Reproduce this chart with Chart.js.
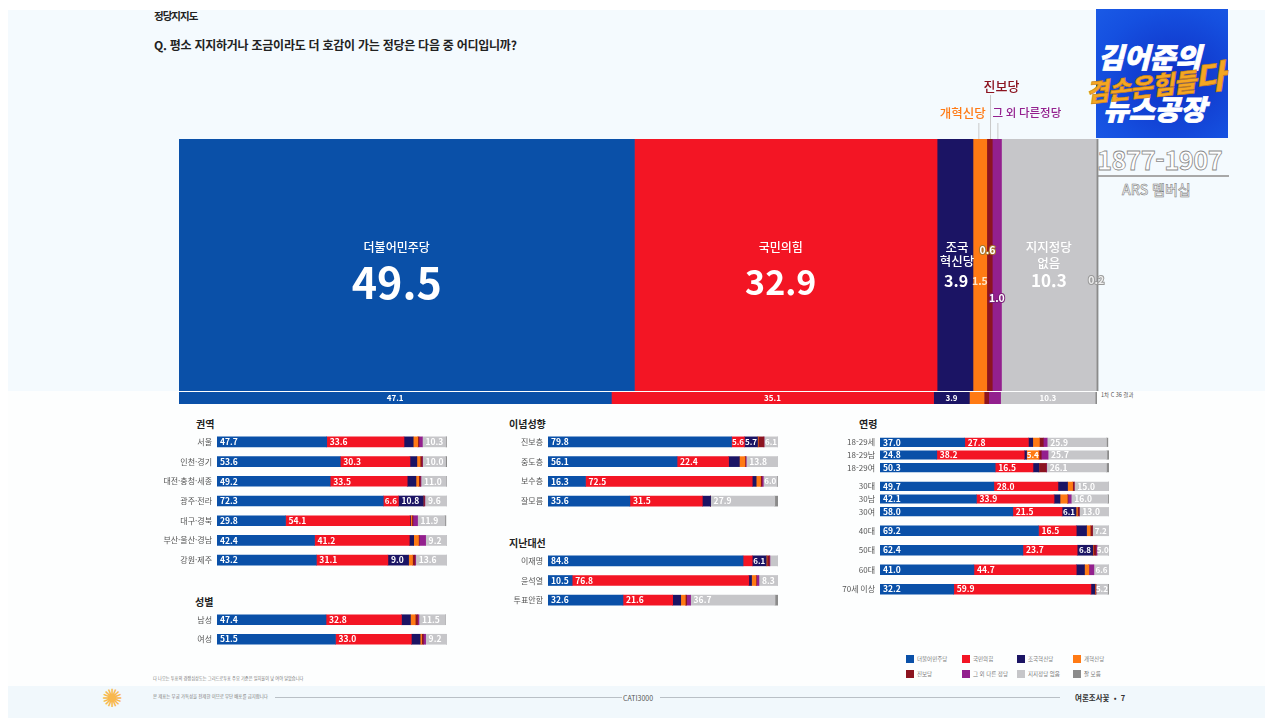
<!DOCTYPE html>
<html lang="ko">
<head>
<meta charset="utf-8">
<title>정당지지도</title>
<script src="https://cdn.jsdelivr.net/npm/chart.js@4"></script>
<style>
  html, body { margin: 0; padding: 0; }
  body { width: 1265px; height: 720px; overflow: hidden; position: relative; background: #ffffff;
         font-family: "Noto Sans CJK KR", "Noto Sans", sans-serif; color: #222; }
  canvas { position: absolute; }
  .abs { position: absolute; white-space: nowrap; }
  .panel-top { position: absolute; left: 8px; top: 10px; width: 1257px; height: 381px; background: #f4fafe; }
  .panel-bottom { position: absolute; left: 8px; top: 391px; width: 1257px; height: 295px; background: #fdfefe; }
  .panel-foot { position: absolute; left: 8px; top: 686px; width: 1257px; height: 32px; background: #f1f8fc; }
  .group-title { font-size: 10px; font-weight: 700; color: #222; }
  .logo { position: absolute; left: 1096px; top: 9px; width: 132px; height: 129px;
          background: radial-gradient(ellipse at 60% 55%, #0f2fc4 0%, #1550e0 70%, #1a5ae6 100%); }
  .logo-line { position: absolute; color: #fff; font-weight: 900; font-style: italic; white-space: nowrap; }
  .leg-box { position: absolute; width: 8px; height: 8px; }
  .leg-text { position: absolute; font-size: 5.5px; color: #777; white-space: nowrap; }
</style>
</head>
<body>
<div class="panel-top"></div>
<div class="panel-bottom"></div>
<div class="panel-foot"></div>

<div class="abs" style="left:154px;top:8px;font-size:10.5px;font-weight:700;letter-spacing:-1px;">정당지지도</div>
<div class="abs" style="left:154px;top:36px;font-size:12px;font-weight:700;letter-spacing:-.25px;">Q. 평소 지지하거나 조금이라도 더 호감이 가는 정당은 다음 중 어디입니까?</div>

<div class="logo"></div>
<div class="logo-line" style="left:1098px;top:36px;font-size:28px;-webkit-text-stroke:.8px #fff;">김어준의</div>
<div class="logo-line" style="left:1103px;top:88px;font-size:28px;-webkit-text-stroke:.8px #fff;">뉴스공장</div>
<div class="logo-line" style="left:1085px;top:57px;font-size:25px;color:#f5a623;transform:rotate(-6deg);letter-spacing:-1px;-webkit-text-stroke:.6px #c77f10;">겸손은힘들<span style="font-size:33px;">다</span></div>
<div class="abs" style="left:1097px;top:140px;font-size:25.5px;font-weight:700;color:#fff;-webkit-text-stroke:.8px #8a8a8a;letter-spacing:-.5px;">1877-1907</div>
<div class="abs" style="left:1096px;top:175px;width:133px;height:2px;background:#a8a8a8;"></div>
<div class="abs" style="left:1122px;top:179px;font-size:14px;font-weight:500;color:#eee;-webkit-text-stroke:.5px #777;">ARS 멤버십</div>

<div class="abs" style="left:1101px;top:391px;font-size:5.5px;color:#555;">1차 C 36 결과</div>

<div class="abs group-title" style="left:196px;top:416px;">권역</div>
<div class="abs group-title" style="left:195px;top:594px;">성별</div>
<div class="abs group-title" style="left:509px;top:416px;">이념성향</div>
<div class="abs group-title" style="left:509px;top:535px;">지난대선</div>
<div class="abs group-title" style="left:859px;top:416px;">연령</div>

<div class="abs" style="left:153px;top:675px;font-size:4.2px;color:#777;">다 나오는 투표의 경쟁심상도는 그리드로투표 주요 기준은 일치율이 낮 여야 달았습니다</div>
<div class="abs" style="left:153px;top:693px;font-size:4.4px;color:#777;">본 제표는 무궁 가독성을 전제한 이므로 무단 배포를 금지합니다</div>
<div class="abs" style="left:275px;top:697px;width:347px;height:1px;background:#b9c0c6;"></div>
<div class="abs" style="left:660px;top:697px;width:400px;height:1px;background:#b9c0c6;"></div>
<div class="abs" style="left:623px;top:693px;font-size:7px;color:#555;">CATI3000</div>
<div class="abs" style="left:1075px;top:692px;font-size:7.5px;font-weight:700;color:#333;">여론조사꽃 &nbsp;•&nbsp; 7</div>
<div class="abs" style="left:102px;top:684px;font-size:25px;line-height:30px;color:#f8b84e;font-family:'DejaVu Sans';">✺</div>

<script>
/* ======================================================
    DATA
====================================================== */
const partyNames = ['더불어민주당', '국민의힘', '조국혁신당', '개혁신당', '진보당', '그 외 다른 정당', '지지정당 없음', '잘 모름'];
const partyColors = ['#0a50a8', '#f31524', '#1b1464', '#ff7a14', '#8c1420', '#93208e', '#c6c6c9', '#8b8b8b'];

// overall result, same order as partyNames
const overall = [49.5, 32.9, 3.9, 1.5, 0.6, 1.0, 10.3, 0.2];
const previous = [47.1, 35.1, 3.9, 1.6, 0.5, 1.3, 10.3, 0.2];

const regionCats = ['서울', '인천·경기', '대전·충청·세종', '광주·전라', '대구·경북', '부산·울산·경남', '강원·제주'];
const regionRows = [
    [47.7, 33.6, 4.0, 2.0, 0.5, 1.5, 10.3, 0.4],
    [53.6, 30.3, 3.0, 1.4, 0.9, 0.2, 10.0, 0.6],
    [49.2, 33.5, 3.8, 1.2, 0.7, 0.3, 11.0, 0.3],
    [72.3, 6.6, 10.8, 0, 0.5, 0.2, 9.6, 0],
    [29.8, 54.1, 0.3, 0.5, 0.5, 2.0, 11.9, 0.4],
    [42.4, 41.2, 1.9, 2.1, 0.3, 2.8, 9.2, 0.1],
    [43.2, 31.1, 9.0, 1.7, 1.0, 0.4, 13.6, 0]
];

const genderCats = ['남성', '여성'];
const genderRows = [
    [47.4, 32.8, 3.9, 2.1, 1.0, 0.6, 11.5, 0.1],
    [51.5, 33.0, 3.8, 0.7, 0.7, 1.0, 9.2, 0]
];

const ideologyCats = ['진보층', '중도층', '보수층', '잘모름'];
const ideologyRows = [
    [79.8, 5.6, 5.7, 0.3, 2.5, 0, 6.1, 0],
    [56.1, 22.4, 4.7, 2.4, 0.3, 0.3, 13.8, 0],
    [16.3, 72.5, 1.7, 1.9, 0.6, 0.6, 6.0, 0.4],
    [35.6, 31.5, 3.6, 0, 0, 0, 27.9, 1.3]
];

const electionCats = ['이재명', '윤석열', '투표안함'];
const electionRows = [
    [84.8, 4.0, 6.1, 0.3, 1.0, 0.3, 3.5, 0],
    [10.5, 76.8, 1.2, 1.9, 0.2, 1.1, 8.3, 0],
    [32.6, 21.6, 3.5, 2.0, 0.6, 1.7, 36.7, 1.3]
];

const youngCats = ['18-29세', '18-29남', '18-29여'];
const youngRows = [
    [37.0, 27.8, 1.9, 2.9, 1.7, 1.7, 25.9, 0.6],
    [24.8, 38.2, 1.0, 5.4, 1.0, 3.0, 25.7, 0.9],
    [50.3, 16.5, 2.6, 0, 3.2, 0.2, 26.1, 1.1]
];

const thirtiesCats = ['30대', '30남', '30여'];
const thirtiesRows = [
    [49.7, 28.0, 4.2, 2.2, 0.7, 0, 15.0, 0.2],
    [42.1, 33.9, 2.6, 3.2, 0.3, 1.4, 16.0, 0.5],
    [58.0, 21.5, 6.1, 0.6, 0.8, 0, 13.0, 0]
];

const olderCats = ['40대', '50대', '60대', '70세 이상'];
const olderRows = [
    [69.2, 16.5, 4.5, 1.6, 1.0, 0, 7.2, 0],
    [62.4, 23.7, 6.8, 0.2, 1.2, 0.5, 5.0, 0.2],
    [41.0, 44.7, 3.6, 1.9, 0, 2.2, 6.6, 0],
    [32.2, 59.9, 1.7, 0.2, 0.3, 0, 5.2, 0.5]
];

/* ======================================================
    CHART HELPERS
====================================================== */
Chart.defaults.font.family = '"Noto Sans CJK KR", "Noto Sans", sans-serif';
Chart.defaults.animation = false;

function addCanvas(left, top, width, height) {
    const c = document.createElement('canvas');
    c.width = width;
    c.height = height;
    c.style.left = left + 'px';
    c.style.top = top + 'px';
    c.style.width = width + 'px';
    c.style.height = height + 'px';
    document.body.appendChild(c);
    return c;
}

// rows are per category, datasets need per party
function toDatasets(rows) {
    return partyNames.map((name, i) => ({
        label: name,
        data: rows.map(r => r[i]),
        backgroundColor: partyColors[i],
        borderWidth: 0,
        barPercentage: 1,
        categoryPercentage: 1
    }));
}

function barRect(el) {
    const p = el.getProps(['x', 'y', 'base', 'height'], true);
    return { left: p.base, right: p.x, cy: p.y, h: p.height };
}

// value labels for the small bars: only segments of 5 and above get one
const smallLabels = {
    id: 'smallLabels',
    afterDatasetsDraw(chart) {
        const ctx = chart.ctx;
        ctx.save();
        ctx.textBaseline = 'middle';
        ctx.fillStyle = '#fff';
        chart.data.datasets.forEach((ds, i) => {
            chart.getDatasetMeta(i).data.forEach((el, j) => {
                if (ds.data[j] < 5) return;
                const r = barRect(el);
                const s = ds.data[j].toFixed(1);
                ctx.font = '700 8.5px "Noto Sans CJK KR"';
                // narrow segments: centre it, smaller, so it stays inside
                if (ctx.measureText(s).width + 4 > r.right - r.left) {
                    ctx.font = '700 8px "Noto Sans CJK KR"';
                    ctx.textAlign = 'center';
                    ctx.fillText(s, (r.left + r.right) / 2, r.cy);
                } else {
                    ctx.textAlign = 'left';
                    ctx.fillText(s, r.left + 3, r.cy);
                }
            });
        });
        ctx.restore();
    }
};

function smallChart(left, top, axisW, barW, height, thickness, cats, rows) {
    const canvas = addCanvas(left, top, axisW + barW, height);
    const datasets = toDatasets(rows);
    datasets.forEach(d => { d.barThickness = thickness; });
    new Chart(canvas.getContext('2d'), {
        type: 'bar',
        data: { labels: cats, datasets },
        options: {
            indexAxis: 'y',
            responsive: false,
            layout: { padding: 0 },
            plugins: { legend: { display: false }, tooltip: { enabled: false } },
            scales: {
                x: { stacked: true, min: 0, max: 100, display: false },
                y: {
                    stacked: true,
                    grid: { display: false, drawTicks: false },
                    border: { display: false },
                    ticks: { color: '#555', font: { size: 8 }, padding: 5, autoSkip: false },
                    // no half-label padding, rows have to fill the canvas height
                    afterFit(scale) {
                        scale.width = axisW;
                        scale.paddingTop = 0;
                        scale.paddingBottom = 0;
                    }
                }
            }
        },
        plugins: [smallLabels]
    });
}

/* ======================================================
    MAIN BAR
====================================================== */
const mainLabels = {
    id: 'mainLabels',
    afterDatasetsDraw(chart) {
        const ctx = chart.ctx;
        const seg = chart.data.datasets.map((d, i) => barRect(chart.getDatasetMeta(i).data[0]));
        const mid = i => (seg[i].left + seg[i].right) / 2;
        const cy = seg[0].cy;
        const txt = (s, x, y, font, color, stroke) => {
            ctx.font = font + ' "Noto Sans CJK KR"';
            ctx.textAlign = 'center';
            ctx.textBaseline = 'middle';
            if (stroke) {
                ctx.lineWidth = 2;
                ctx.strokeStyle = stroke;
                ctx.strokeText(s, x, y);
            }
            ctx.fillStyle = color;
            ctx.fillText(s, x, y);
        };
        ctx.save();
        txt('더불어민주당', mid(0) - 10, cy - 18, '500 12px', '#fff');
        txt(overall[0].toFixed(1), mid(0) - 10, cy + 18, '700 43px', '#fff');
        txt('국민의힘', mid(1) - 5, cy - 18, '500 12px', '#fff');
        txt(overall[1].toFixed(1), mid(1) - 5, cy + 17, '700 34px', '#fff');
        txt('조국', mid(2) + 2, cy - 18, '500 12.5px', '#fff');
        txt('혁신당', mid(2) + 2, cy - 4, '500 12.5px', '#fff');
        txt(overall[2].toFixed(1), mid(2) + 1, cy + 16, '700 16px', '#fff');
        txt(overall[3].toFixed(1), mid(3), cy + 16, '700 10.5px', '#ffe6c8');
        txt(overall[4].toFixed(1), mid(4) - 2, cy - 15, '700 10.5px', '#fff', '#a8762a');
        txt(overall[5].toFixed(1), mid(5), cy + 33, '700 10.5px', '#fff', '#7a1f78');
        txt('지지정당', mid(6), cy - 18, '500 12.5px', '#fff');
        txt('없음', mid(6), cy - 2, '500 12.5px', '#fff');
        txt(overall[6].toFixed(1), mid(6), cy + 16, '700 17px', '#fff');
        txt(overall[7].toFixed(1), seg[7].left, cy + 15, '700 10.5px', '#eee', '#999');

        // callouts above the bar
        const top = chart.chartArea.top;
        const leader = (x, y0, color) => {
            ctx.strokeStyle = color;
            ctx.lineWidth = 1;
            ctx.beginPath();
            ctx.moveTo(x, y0);
            ctx.lineTo(x, top);
            ctx.stroke();
        };
        leader(mid(3) - 1, top - 16, '#c9c9c9');
        leader(mid(4) + 1, top - 44, '#c9c9c9');
        leader(mid(5) + 1, top - 16, '#c9c9c9');
        txt(partyNames[4], mid(4) + 12, top - 53, '500 13px', partyColors[4]);
        txt(partyNames[3], mid(3) - 17, top - 26, '500 12.5px', partyColors[3]);
        txt('그 외 다른정당', mid(5) + 30, top - 26, '500 11.5px', partyColors[5]);
        ctx.restore();
    }
};

function mainChart() {
    const canvas = addCanvas(179, 70, 960, 321);
    new Chart(canvas.getContext('2d'), {
        type: 'bar',
        data: { labels: ['전체'], datasets: toDatasets([overall]) },
        options: {
            indexAxis: 'y',
            responsive: false,
            layout: { padding: { top: 69, right: 40 } },
            plugins: { legend: { display: false }, tooltip: { enabled: false } },
            scales: {
                x: { stacked: true, min: 0, max: 100, display: false },
                y: { stacked: true, display: false }
            }
        },
        plugins: [mainLabels]
    });
}

const prevLabels = {
    id: 'prevLabels',
    afterDatasetsDraw(chart) {
        const ctx = chart.ctx;
        ctx.save();
        ctx.font = '700 8px "Noto Sans CJK KR"';
        ctx.textBaseline = 'middle';
        ctx.textAlign = 'center';
        chart.data.datasets.forEach((ds, i) => {
            const v = ds.data[0];
            if (v < 3) return;
            const r = barRect(chart.getDatasetMeta(i).data[0]);
            ctx.fillStyle = '#fff';
            ctx.fillText(v.toFixed(1), (r.left + r.right) / 2, r.cy);
        });
        ctx.restore();
    }
};

function prevChart() {
    const canvas = addCanvas(179, 392, 918, 12);
    new Chart(canvas.getContext('2d'), {
        type: 'bar',
        data: { labels: ['지난 조사'], datasets: toDatasets([previous]) },
        options: {
            indexAxis: 'y',
            responsive: false,
            layout: { padding: 0 },
            plugins: { legend: { display: false }, tooltip: { enabled: false } },
            scales: {
                x: { stacked: true, min: 0, max: 100, display: false },
                y: { stacked: true, display: false }
            }
        },
        plugins: [prevLabels]
    });
}

/* ======================================================
    LEGEND
====================================================== */
function buildLegend() {
    const xs = [906, 962, 1017, 1073];
    const ys = [655, 670];
    partyNames.forEach((name, i) => {
        const x = xs[i % 4];
        const y = ys[i < 4 ? 0 : 1];
        const box = document.createElement('div');
        box.className = 'leg-box';
        box.style.cssText = `left:${x}px;top:${y}px;background:${partyColors[i]};`;
        const label = document.createElement('div');
        label.className = 'leg-text';
        label.style.cssText = `left:${x + 11}px;top:${y}px;`;
        label.textContent = name;
        document.body.append(box, label);
    });
}

window.onload = () => {
    mainChart();
    prevChart();
    smallChart(150, 432, 67, 230, 138, 10, regionCats, regionRows);
    smallChart(150, 610, 67, 230, 39, 10, genderCats, genderRows);
    smallChart(490, 432, 58, 230, 79, 10, ideologyCats, ideologyRows);
    smallChart(490, 551, 58, 230, 59, 10, electionCats, electionRows);
    smallChart(830, 436, 50, 229, 38, 8.5, youngCats, youngRows);
    smallChart(830, 480, 50, 229, 38, 8.5, thirtiesCats, thirtiesRows);
    smallChart(830, 521, 50, 229, 78, 10, olderCats, olderRows);
    buildLegend();
};
</script>
</body>
</html>
